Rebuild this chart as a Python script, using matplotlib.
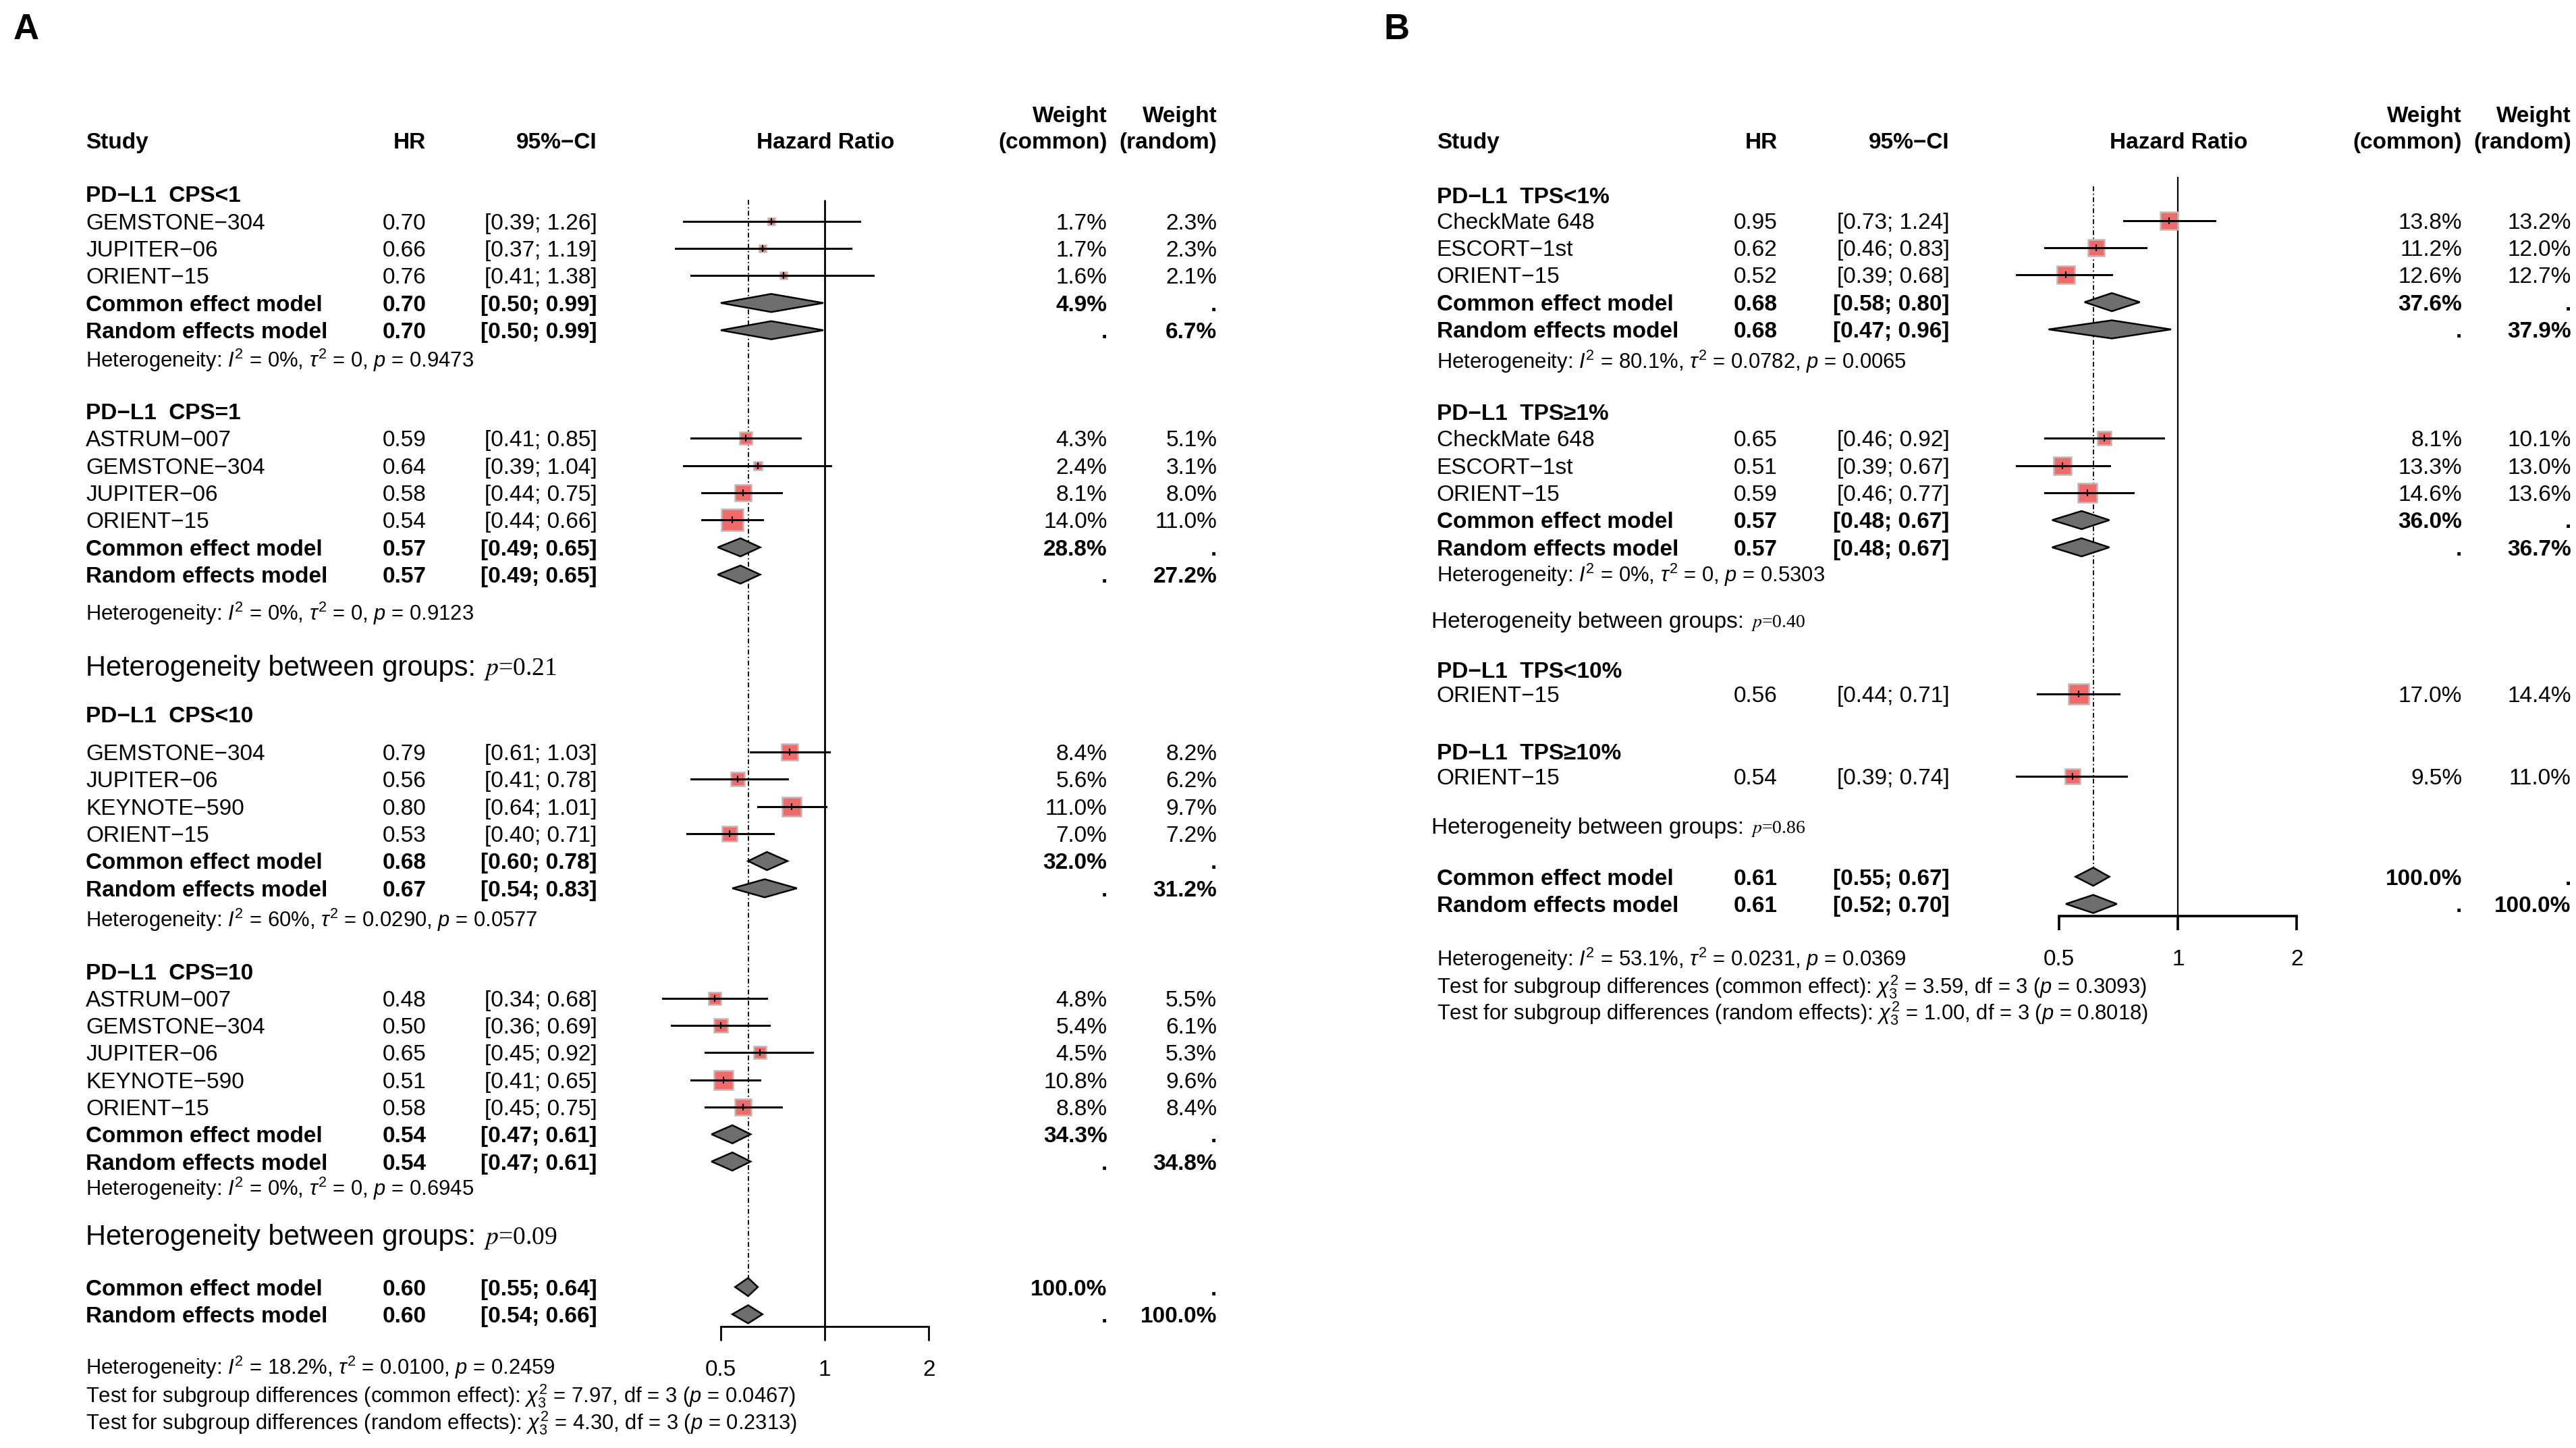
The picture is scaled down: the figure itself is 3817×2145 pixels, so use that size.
import numpy as np
import matplotlib
matplotlib.use('Agg')
import matplotlib.pyplot as plt
from matplotlib.patches import Polygon
from matplotlib.ticker import NullLocator

plt.rcParams['font.family'] = ['Liberation Sans', 'DejaVu Sans']
plt.rcParams['mathtext.fontset'] = 'custom'
plt.rcParams['mathtext.rm'] = 'Liberation Sans'
plt.rcParams['mathtext.it'] = 'Liberation Sans:italic'
plt.rcParams['mathtext.bf'] = 'Liberation Sans:bold'

# ---------------- panel A data (PD-L1 CPS) ----------------
A_SUB = ['PD−L1  CPS<1', 'PD−L1  CPS=1', 'PD−L1  CPS<10', 'PD−L1  CPS=10']
A_STUDY = ['GEMSTONE−304', 'JUPITER−06', 'ORIENT−15',
           'ASTRUM−007', 'GEMSTONE−304', 'JUPITER−06', 'ORIENT−15',
           'GEMSTONE−304', 'JUPITER−06', 'KEYNOTE−590', 'ORIENT−15',
           'ASTRUM−007', 'GEMSTONE−304', 'JUPITER−06', 'KEYNOTE−590', 'ORIENT−15']
A_GROUP = [0, 0, 0, 1, 1, 1, 1, 2, 2, 2, 2, 3, 3, 3, 3, 3]
A_HR = [0.70, 0.66, 0.76, 0.59, 0.64, 0.58, 0.54, 0.79, 0.56, 0.80, 0.53, 0.48, 0.50, 0.65, 0.51, 0.58]
A_LO = [0.39, 0.37, 0.41, 0.41, 0.39, 0.44, 0.44, 0.61, 0.41, 0.64, 0.40, 0.34, 0.36, 0.45, 0.41, 0.45]
A_HI = [1.26, 1.19, 1.38, 0.85, 1.04, 0.75, 0.66, 1.03, 0.78, 1.01, 0.71, 0.68, 0.69, 0.92, 0.65, 0.75]
A_WC = [1.7, 1.7, 1.6, 4.3, 2.4, 8.1, 14.0, 8.4, 5.6, 11.0, 7.0, 4.8, 5.4, 4.5, 10.8, 8.8]
A_WR = [2.3, 2.3, 2.1, 5.1, 3.1, 8.0, 11.0, 8.2, 6.2, 9.7, 7.2, 5.5, 6.1, 5.3, 9.6, 8.4]
A_SUB_C = [(0.70, 0.50, 0.99), (0.57, 0.49, 0.65), (0.68, 0.60, 0.78), (0.54, 0.47, 0.61)]
A_SUB_R = [(0.70, 0.50, 0.99), (0.57, 0.49, 0.65), (0.67, 0.54, 0.83), (0.54, 0.47, 0.61)]
A_SUB_WC = [4.9, 28.8, 32.0, 34.3]
A_SUB_WR = [6.7, 27.2, 31.2, 34.8]
A_HET_I2 = ['0%', '0%', '60%', '0%']
A_HET_TAU2 = ['0', '0', '0.0290', '0']
A_HET_P = ['0.9473', '0.9123', '0.0577', '0.6945']
A_BETWEEN_P = ['0.21', '0.09']
A_ALL_C = (0.60, 0.55, 0.64)
A_ALL_R = (0.60, 0.54, 0.66)
A_ALL_HET = ('18.2%', '0.0100', '0.2459')
A_TEST_CHI = ['7.97', '4.30']
A_TEST_P = ['0.0467', '0.2313']

# ---------------- panel B data (PD-L1 TPS) ----------------
B_SUB = ['PD−L1  TPS<1%', 'PD−L1  TPS≥1%', 'PD−L1  TPS<10%', 'PD−L1  TPS≥10%']
B_STUDY = ['CheckMate 648', 'ESCORT−1st', 'ORIENT−15',
           'CheckMate 648', 'ESCORT−1st', 'ORIENT−15',
           'ORIENT−15', 'ORIENT−15']
B_GROUP = [0, 0, 0, 1, 1, 1, 2, 3]
B_HR = [0.95, 0.62, 0.52, 0.65, 0.51, 0.59, 0.56, 0.54]
B_LO = [0.73, 0.46, 0.39, 0.46, 0.39, 0.46, 0.44, 0.39]
B_HI = [1.24, 0.83, 0.68, 0.92, 0.67, 0.77, 0.71, 0.74]
B_WC = [13.8, 11.2, 12.6, 8.1, 13.3, 14.6, 17.0, 9.5]
B_WR = [13.2, 12.0, 12.7, 10.1, 13.0, 13.6, 14.4, 11.0]
B_SUB_C = [(0.68, 0.58, 0.80), (0.57, 0.48, 0.67)]
B_SUB_R = [(0.68, 0.47, 0.96), (0.57, 0.48, 0.67)]
B_SUB_WC = [37.6, 36.0]
B_SUB_WR = [37.9, 36.7]
B_HET_I2 = ['80.1%', '0%']
B_HET_TAU2 = ['0.0782', '0']
B_HET_P = ['0.0065', '0.5303']
B_BETWEEN_P = ['0.40', '0.86']
B_ALL_C = (0.61, 0.55, 0.67)
B_ALL_R = (0.61, 0.52, 0.70)
B_ALL_HET = ('53.1%', '0.0231', '0.0369')
B_TEST_CHI = ['3.59', '1.00']
B_TEST_P = ['0.3093', '0.8018']

# ---------------- layout (units ~ px of a 1560 wide page) ----------------
W, H = 1560, 877
DPI = 100
U = 3817 / W
STEP = 16.5
FS = 24        # main text
FS_H = 22.3    # heterogeneity / footer text
DH = 5.5       # half height of diamonds

fig = plt.figure(figsize=(38.17, 21.45), dpi=DPI)
tx = fig.add_axes([0, 0, 1, 1])
tx.set_xlim(0, W)
tx.set_ylim(H, 0)
tx.axis('off')


def put(x, y, s, size=FS, ha='left', bold=False, **kw):
    # y is the middle of the capital letters
    off = 0.36 * size * DPI / 72 / U
    return tx.text(x, y + off, s, ha=ha, va='baseline', fontsize=size,
                   fontweight='bold' if bold else 'normal', **kw)


def het_text(i2, tau2, p):
    return r'Heterogeneity: $I^2$ = ' + i2 + r', $\tau^2$ = ' + tau2 + r', $p$ = ' + p


def between(x, y, p, fs_sans, fs_serif):
    t = put(x, y, 'Heterogeneity between groups: ', size=fs_sans)
    tx.annotate(r'$p$=' + p, xy=(1, 0), xycoords=t, va='bottom', ha='left',
                fontsize=fs_serif, family='Liberation Serif', math_fontfamily='stix')


def forest_axes(center, unit, axis_y, lw):
    lo, hi = 0.3, 2.2
    x0 = center + unit * np.log2(lo)
    x1 = center + unit * np.log2(hi)
    ax = fig.add_axes([x0 / W, 1 - axis_y / H, (x1 - x0) / W, axis_y / H])
    ax.set_xscale('log')
    ax.set_xlim(lo, hi)
    ax.set_ylim(axis_y, 0)
    ax.patch.set_alpha(0)
    for s in ['left', 'right', 'top']:
        ax.spines[s].set_visible(False)
    ax.spines['bottom'].set_bounds(0.5, 2)
    ax.spines['bottom'].set_linewidth(lw)
    ax.set_yticks([])
    ax.set_xticks([0.5, 1, 2])
    ax.set_xticklabels(['0.5', '1', '2'])
    ax.xaxis.set_minor_locator(NullLocator())
    ax.tick_params(axis='x', direction='out', length=15, width=lw, labelsize=FS, pad=20)
    return ax


def diamond(ax, est, y):
    hr, lo, hi = est
    ax.add_patch(Polygon([(lo, y), (hr, y - DH), (hi, y), (hr, y + DH)], closed=True,
                         facecolor='#6e6e6e', edgecolor='black', lw=1.8, clip_on=False, zorder=4))


def draw_panel(ax, cols, study, group, hr, lo, hi, wc, wr, subs, sub_c, sub_r, sub_wc, sub_wr,
               het_i2, het_tau2, het_p, title_y, row0_y, het_y, sq_ref, sq_w):
    xs, xhr, xci, xwc, xwr = cols
    for g, name in enumerate(subs):
        put(xs, title_y[g], name, bold=True)
        idx = [i for i, k in enumerate(group) if k == g]
        for j, i in enumerate(idx):
            y = row0_y[g] + j * STEP
            put(xs, y, study[i])
            put(xhr, y, f'{hr[i]:.2f}', ha='right')
            put(xci, y, f'[{lo[i]:.2f}; {hi[i]:.2f}]', ha='right')
            put(xwc, y, f'{wc[i]:.1f}%', ha='right')
            put(xwr, y, f'{wr[i]:.1f}%', ha='right')
            ms = sq_ref * np.sqrt(wc[i] / sq_w)
            ax.plot(hr[i], y, marker='s', ms=ms, mfc='#f06a6a', mec='#c4b4b4', mew=1.8,
                    clip_on=False, zorder=2)
            ax.plot([lo[i], hi[i]], [y, y], color='black', lw=2.2, clip_on=False, zorder=3)
            ax.plot(hr[i], y, marker='|', ms=7, mew=1.5, color='black', clip_on=False, zorder=3)
        if g < len(sub_c):
            y = row0_y[g] + len(idx) * STEP
            for est, label, w, k in [(sub_c[g], 'Common effect model', sub_wc[g], 0),
                                     (sub_r[g], 'Random effects model', sub_wr[g], 1)]:
                yy = y + k * STEP
                put(xs, yy, label, bold=True)
                put(xhr, yy, f'{est[0]:.2f}', ha='right', bold=True)
                put(xci, yy, f'[{est[1]:.2f}; {est[2]:.2f}]', ha='right', bold=True)
                put(xwc, yy, f'{w:.1f}%' if k == 0 else '.', ha='right', bold=True)
                put(xwr, yy, '.' if k == 0 else f'{w:.1f}%', ha='right', bold=True)
                diamond(ax, est, yy)
            put(xs, het_y[g], het_text(het_i2[g], het_tau2[g], het_p[g]), size=FS_H)


def header(cols, xmid, y):
    xs, xhr, xci, xwc, xwr = cols
    put(xs, y, 'Study', bold=True)
    put(xhr, y, 'HR', ha='right', bold=True)
    put(xci, y, '95%−CI', ha='right', bold=True)
    put(xmid, y, 'Hazard Ratio', ha='center', bold=True)
    put(xwc, y - 16, 'Weight', ha='right', bold=True)
    put(xwc, y, '(common)', ha='right', bold=True)
    put(xwr, y - 16, 'Weight', ha='right', bold=True)
    put(xwr, y, '(random)', ha='right', bold=True)


def overall(ax, cols, all_c, all_r, y0, het, chi, pv, foot_y):
    xs, xhr, xci, xwc, xwr = cols
    for est, label, k in [(all_c, 'Common effect model', 0), (all_r, 'Random effects model', 1)]:
        yy = y0 + k * STEP
        put(xs, yy, label, bold=True)
        put(xhr, yy, f'{est[0]:.2f}', ha='right', bold=True)
        put(xci, yy, f'[{est[1]:.2f}; {est[2]:.2f}]', ha='right', bold=True)
        put(xwc, yy, '100.0%' if k == 0 else '.', ha='right', bold=True)
        put(xwr, yy, '.' if k == 0 else '100.0%', ha='right', bold=True)
        diamond(ax, est, yy)
    put(xs, foot_y[0], het_text(*het), size=FS_H)
    put(xs, foot_y[1], r'Test for subgroup differences (common effect): $\chi^2_3$ = ' + chi[0]
        + r', df = 3 ($p$ = ' + pv[0] + ')', size=FS_H)
    put(xs, foot_y[2], r'Test for subgroup differences (random effects): $\chi^2_3$ = ' + chi[1]
        + r', df = 3 ($p$ = ' + pv[1] + ')', size=FS_H)


# ---------------- panel A ----------------
colsA = (52, 258, 361.5, 670.5, 737)
axA = forest_axes(499.5, 63, 803.5, 2)
header(colsA, 500, 85)
draw_panel(axA, colsA, A_STUDY, A_GROUP, A_HR, A_LO, A_HI, A_WC, A_WR, A_SUB,
           A_SUB_C, A_SUB_R, A_SUB_WC, A_SUB_WR, A_HET_I2, A_HET_TAU2, A_HET_P,
           title_y=[117.5, 249, 432.5, 588.5], row0_y=[134, 265.5, 455.5, 604.5],
           het_y=[218, 371, 557, 719.5], sq_ref=22.5, sq_w=14.0)
between(52, 403, A_BETWEEN_P[0], 30, 27)
between(52, 748, A_BETWEEN_P[1], 30, 27)
overall(axA, colsA, A_ALL_C, A_ALL_R, 779.5, A_ALL_HET, A_TEST_CHI, A_TEST_P, [828, 845, 861])
axA.vlines(1, 121, 803.5, color='black', lw=2, zorder=1)
axA.vlines(A_ALL_C[0], 121, 779.5 - DH, color='black', lw=1.3,
           linestyles=(0, (4, 2, 1, 2)), zorder=1)
put(8, 16, 'A', size=38, bold=True)

# ---------------- panel B ----------------
colsB = (870, 1076.5, 1180.5, 1491, 1557)
axB = forest_axes(1319, 72, 555, 2.6)
header(colsB, 1319.5, 85)
draw_panel(axB, colsB, B_STUDY, B_GROUP, B_HR, B_LO, B_HI, B_WC, B_WR, B_SUB,
           B_SUB_C, B_SUB_R, B_SUB_WC, B_SUB_WR, B_HET_I2, B_HET_TAU2, B_HET_P,
           title_y=[118, 249.5, 405.5, 455], row0_y=[133.5, 265.5, 420.5, 470],
           het_y=[218.5, 348], sq_ref=21.5, sq_w=17.0)
between(867, 375.5, B_BETWEEN_P[0], 24, 20)
between(867, 500, B_BETWEEN_P[1], 24, 20)
overall(axB, colsB, B_ALL_C, B_ALL_R, 531, B_ALL_HET, B_TEST_CHI, B_TEST_P, [580.5, 597, 613])
axB.vlines(1, 107, 555, color='black', lw=1.6, zorder=1)
axB.vlines(B_ALL_C[0], 113, 531 - DH, color='black', lw=1.3,
           linestyles=(0, (4, 2, 1, 2)), zorder=1)
put(838, 16, 'B', size=38, bold=True)

fig.savefig('out.png', dpi=DPI)
